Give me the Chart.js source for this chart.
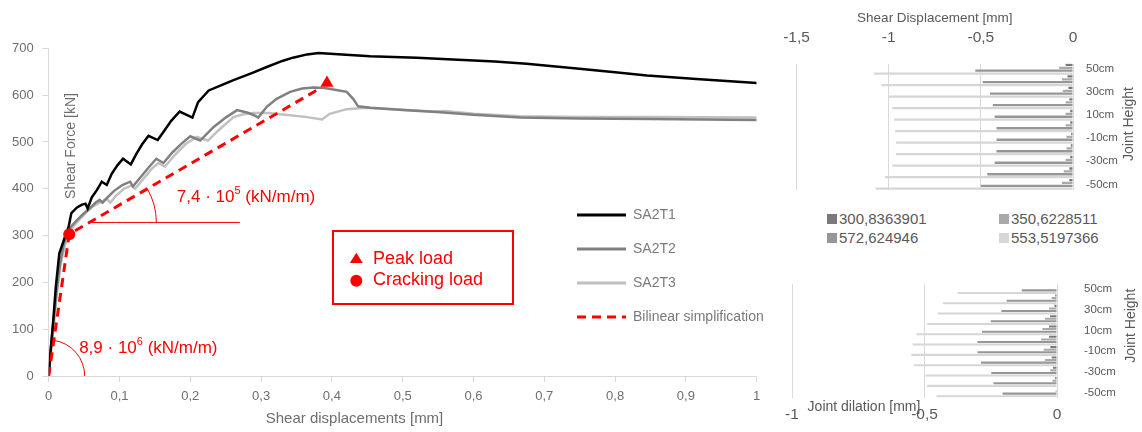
<!DOCTYPE html>
<html>
<head>
<meta charset="utf-8">
<script src="https://cdn.jsdelivr.net/npm/chart.js@4.4.1/dist/chart.umd.min.js"></script>
<style>
  html, body { margin: 0; padding: 0; background: #fff; }
  #wrap { position: relative; width: 1142px; height: 432px; overflow: hidden; font-family: 'Liberation Sans', Arial, sans-serif; }
  canvas { position: absolute; }
  #c-main { left: 0; top: 0; }
  #c-shear { left: 780px; top: 0; }
  #c-dil { left: 780px; top: 250px; }
  .lg { position: absolute; font-size: 15px; line-height: 18px; color: #595959; white-space: nowrap; }
  .lg i { display: inline-block; width: 10px; height: 10px; margin-right: 2px; }
</style>
</head>
<body>
<div id="wrap">
  <canvas id="c-main" width="780" height="432"></canvas>
  <canvas id="c-shear" width="362" height="210"></canvas>
  <canvas id="c-dil" width="362" height="182"></canvas>
  <div id="legend-right"></div>
</div>
<script>
var FONT = "'Liberation Sans', Arial, sans-serif";
Chart.defaults.font.family = FONT;
Chart.defaults.color = '#595959';

// ---------- left chart : shear force vs shear displacement ----------
var xTickLabels = ['0', '0,1', '0,2', '0,3', '0,4', '0,5', '0,6', '0,7', '0,8', '0,9', '1'];
var yTickLabels = ['0', '100', '200', '300', '400', '500', '600', '700'];

var sa2t1X = [0, 0.0025, 0.0065, 0.010, 0.015, 0.023, 0.028, 0.032, 0.040, 0.047, 0.052, 0.055, 0.061, 0.068, 0.075, 0.082, 0.089, 0.097, 0.105, 0.116, 0.124, 0.132, 0.141, 0.154, 0.162, 0.173, 0.185, 0.203, 0.211, 0.226, 0.245, 0.261, 0.285, 0.308, 0.330, 0.345, 0.365, 0.381, 0.392, 0.420, 0.454, 0.520, 0.571, 0.630, 0.675, 0.746, 0.800, 0.845, 0.920, 1.0];
var sa2t1Y = [0, 50, 120, 190, 262, 297, 318, 348, 360, 366, 368, 358, 382, 397, 415, 408, 432, 450, 464, 452, 475, 495, 513, 504, 521, 545, 565, 552, 585, 610, 622, 632, 646, 660, 673, 680, 687, 690, 689, 686, 683, 680, 676, 672, 667, 657, 649, 642, 634, 626];

var sa2t2X = [0, 0.003, 0.007, 0.011, 0.016, 0.021, 0.026, 0.032, 0.040, 0.048, 0.058, 0.066, 0.072, 0.076, 0.082, 0.092, 0.104, 0.115, 0.119, 0.130, 0.142, 0.152, 0.162, 0.175, 0.188, 0.200, 0.214, 0.233, 0.250, 0.266, 0.280, 0.290, 0.296, 0.308, 0.322, 0.341, 0.358, 0.374, 0.390, 0.402, 0.421, 0.430, 0.437, 0.454, 0.500, 0.548, 0.600, 0.666, 0.750, 0.850, 1.0];
var sa2t2Y = [0, 60, 120, 180, 240, 280, 305, 320, 333, 345, 358, 370, 376, 370, 380, 395, 408, 415, 405, 425, 447, 464, 455, 478, 497, 512, 503, 532, 552, 568, 563, 557, 552, 575, 592, 607, 614, 616, 615, 612, 607, 592, 576, 573, 568, 564, 558, 552, 550, 549, 547];

var sa2t3X = [0, 0.004, 0.008, 0.012, 0.017, 0.023, 0.030, 0.036, 0.044, 0.052, 0.062, 0.074, 0.082, 0.087, 0.095, 0.106, 0.117, 0.122, 0.133, 0.145, 0.155, 0.164, 0.178, 0.193, 0.209, 0.225, 0.240, 0.261, 0.275, 0.289, 0.310, 0.341, 0.365, 0.386, 0.397, 0.421, 0.449, 0.500, 0.543, 0.560, 0.600, 0.666, 0.750, 0.850, 1.0];
var sa2t3Y = [0, 60, 120, 180, 240, 280, 305, 322, 335, 348, 362, 372, 379, 370, 385, 400, 407, 400, 420, 442, 455, 447, 472, 495, 511, 503, 525, 553, 559, 562, 562, 557, 553, 548, 560, 570, 573, 569, 565, 566, 560, 555, 553, 553, 552];

var bilinearX = [0, 0.029, 0.385];
var bilinearY = [0, 303, 616];
var peakX = [0.393];
var peakY = [626];
var crackX = [0.029];
var crackY = [303];

// stiffness annotations: [text, superscript, rest], anchor in data units
var stiffInitialText = ['8,9 \u00b7 10', '6', ' (kN/m/m)'];
var stiffInitialAt = [0.043, 60];
var stiffSecondText = ['7,4 \u00b7 10', '5', ' (kN/m/m)'];
var stiffSecondAt = [0.181, 382];
var refLevel = 328;      // horizontal reference line for the second branch angle
var refLineEnd = 0.27;

// ---------- right charts : joint shear displacement / dilation ----------
var jointHeights = ['50cm', '40cm', '30cm', '20cm', '10cm', '0cm', '-10cm', '-20cm', '-30cm', '-40cm', '-50cm'];
var loadLevels = ['300,8363901', '350,6228511', '572,624946', '553,5197366'];
var shearTicks = ['-1,5', '-1', '-0,5', '0'];
var dilationTicks = ['-1', '-0,5', '0'];

var shear300 = [-0.04, -0.03, -0.025, -0.02, -0.015, -0.015, -0.01, -0.012, -0.015, -0.02, -0.02];
var shear350 = [-0.075, -0.06, -0.055, -0.04, -0.04, -0.04, -0.035, -0.035, -0.04, -0.05, -0.06];
var shear572 = [-0.53, -0.49, -0.45, -0.435, -0.425, -0.415, -0.415, -0.415, -0.425, -0.465, -0.50];
var shear553 = [-1.08, -1.04, -1.0, -0.98, -0.97, -0.965, -0.96, -0.96, -0.98, -1.02, -1.07];

var dil300 = [0, -0.007, -0.01, -0.026, -0.03, -0.03, -0.025, -0.02, -0.015, -0.007, -0.002];
var dil350 = [-0.002, -0.02, -0.03, -0.045, -0.055, -0.06, -0.05, -0.045, -0.025, -0.017, -0.005];
var dil572 = [-0.133, -0.19, -0.21, -0.25, -0.283, -0.30, -0.30, -0.287, -0.248, -0.24, -0.205];
var dil553 = [-0.375, -0.43, -0.45, -0.49, -0.53, -0.545, -0.55, -0.54, -0.496, -0.49, -0.455];

var loadColors = ['#7a7a7a', '#a9a9a9', '#969696', '#d6d6d6'];

function pts(xs, ys) {
    return xs.map(function (x, i) { return { x: x, y: ys[i] }; });
}

function supText(ctx, x, y, parts) {
    ctx.font = '17px ' + FONT;
    ctx.fillText(parts[0], x, y);
    var w = ctx.measureText(parts[0]).width;
    ctx.font = '11px ' + FONT;
    ctx.fillText(parts[1], x + w, y - 6);
    var w2 = ctx.measureText(parts[1]).width;
    ctx.font = '17px ' + FONT;
    ctx.fillText(parts[2], x + w + w2, y);
}

var mainExtras = {
    id: 'mainExtras',
    afterDraw: function (chart) {
        var ctx = chart.ctx, xs = chart.scales.x, ys = chart.scales.y;
        var px = function (v) { return xs.getPixelForValue(v); };
        var py = function (v) { return ys.getPixelForValue(v); };
        ctx.save();

        // angle of the first branch
        var x0 = px(bilinearX[0]), y0 = py(bilinearY[0]);
        var x1 = px(bilinearX[1]), y1 = py(bilinearY[1]);
        var x2 = px(bilinearX[2]), y2 = py(bilinearY[2]);
        ctx.strokeStyle = '#ff0000';
        ctx.lineWidth = 1;
        ctx.beginPath();
        ctx.arc(x0, y0, 36, Math.atan2(y1 - y0, x1 - x0), 0);
        ctx.stroke();

        // angle of the second branch
        var t = (refLevel - bilinearY[1]) / (bilinearY[2] - bilinearY[1]);
        var xr = px(bilinearX[1] + t * (bilinearX[2] - bilinearX[1]));
        var yr = py(refLevel);
        ctx.beginPath();
        ctx.moveTo(xr, yr);
        ctx.lineTo(px(refLineEnd), yr);
        ctx.stroke();
        ctx.beginPath();
        ctx.arc(xr, yr, 67, Math.atan2(y2 - y1, x2 - x1), 0);
        ctx.stroke();

        ctx.fillStyle = '#ff0000';
        ctx.textAlign = 'left';
        ctx.textBaseline = 'middle';
        supText(ctx, px(stiffInitialAt[0]), py(stiffInitialAt[1]), stiffInitialText);
        supText(ctx, px(stiffSecondAt[0]), py(stiffSecondAt[1]), stiffSecondText);

        // marker legend box
        ctx.lineWidth = 2;
        ctx.strokeRect(333, 231, 180, 73);
        ctx.beginPath();
        ctx.moveTo(356.3, 252.7);
        ctx.lineTo(362.8, 263);
        ctx.lineTo(349.8, 263);
        ctx.closePath();
        ctx.fill();
        ctx.beginPath();
        ctx.arc(356.3, 280.7, 6, 0, Math.PI * 2);
        ctx.fill();
        ctx.font = '18px ' + FONT;
        ctx.fillText('Peak load', 373, 259);
        ctx.fillText('Cracking load', 373, 280);

        // series legend
        var ds = chart.data.datasets;
        var order = [3, 4, 5, 2];
        var rows = [215, 249, 283, 317];
        ctx.font = '14px ' + FONT;
        order.forEach(function (k, i) {
            var d = ds[k];
            ctx.strokeStyle = d.borderColor;
            ctx.lineWidth = 3;
            ctx.setLineDash(d.borderDash || []);
            ctx.beginPath();
            ctx.moveTo(577, rows[i]);
            ctx.lineTo(626, rows[i]);
            ctx.stroke();
            ctx.setLineDash([]);
            ctx.fillStyle = '#7a7a7a';
            ctx.fillText(d.label, 633, rows[i]);
        });

        // axis titles
        ctx.fillStyle = '#6e6e6e';
        ctx.textAlign = 'center';
        ctx.font = '15px ' + FONT;
        ctx.fillText('Shear displacements [mm]', 354.5, 419);
        ctx.translate(71, 146);
        ctx.rotate(-Math.PI / 2);
        ctx.font = '14px ' + FONT;
        ctx.fillText('Shear Force [kN]', 0, 0);
        ctx.restore();
    }
};

var mainChart = new Chart(document.getElementById('c-main'), {
    type: 'line',
    data: {
        datasets: [
            { label: 'Peak load', data: pts(peakX, peakY), showLine: false, pointStyle: 'triangle', pointRadius: 7.5, pointBackgroundColor: '#ff0000', pointBorderWidth: 0 },
            { label: 'Cracking load', data: pts(crackX, crackY), showLine: false, pointStyle: 'circle', pointRadius: 6, pointBackgroundColor: '#ff0000', pointBorderWidth: 0 },
            { label: 'Bilinear simplification', data: pts(bilinearX, bilinearY), borderColor: '#ff0000', borderWidth: 3, borderDash: [9, 6], pointRadius: 0, tension: 0 },
            { label: 'SA2T1', data: pts(sa2t1X, sa2t1Y), borderColor: '#000000', borderWidth: 2.5, pointRadius: 0, tension: 0 },
            { label: 'SA2T2', data: pts(sa2t2X, sa2t2Y), borderColor: '#808080', borderWidth: 2.5, pointRadius: 0, tension: 0 },
            { label: 'SA2T3', data: pts(sa2t3X, sa2t3Y), borderColor: '#c0c0c0', borderWidth: 2.5, pointRadius: 0, tension: 0 }
        ]
    },
    options: {
        responsive: false,
        animation: false,
        layout: { padding: { top: 48.3, right: 23.3, left: 0, bottom: 0 } },
        plugins: { legend: { display: false }, tooltip: { enabled: false } },
        scales: {
            x: {
                type: 'linear', min: 0, max: 1,
                afterFit: function (s) { s.height = 56; },
                ticks: { stepSize: 0.1, padding: 7, color: '#6e6e6e', font: { size: 13 },
                    callback: function (v, i) { return xTickLabels[i]; } },
                grid: { drawOnChartArea: false, drawTicks: true, tickLength: 6, color: '#d9d9d9' },
                border: { display: true, color: '#d9d9d9' }
            },
            y: {
                type: 'linear', min: 0, max: 700,
                afterFit: function (s) { s.width = 48.7; },
                ticks: { stepSize: 100, padding: 9, color: '#6e6e6e', font: { size: 13 },
                    callback: function (v, i) { return yTickLabels[i]; } },
                grid: { drawOnChartArea: false, drawTicks: true, tickLength: 6, color: '#d9d9d9' },
                border: { display: true, color: '#d9d9d9' }
            }
        }
    },
    plugins: [mainExtras]
});

function sideTitle(cx, cy) {
    return {
        id: 'sideTitle',
        afterDraw: function (chart) {
            var ctx = chart.ctx;
            ctx.save();
            ctx.fillStyle = '#595959';
            ctx.font = '14px ' + FONT;
            ctx.textAlign = 'center';
            ctx.textBaseline = 'middle';
            ctx.translate(cx, cy);
            ctx.rotate(-Math.PI / 2);
            ctx.fillText('Joint Height', 0, 0);
            ctx.restore();
        }
    };
}

function barSets(a, b, c, d) {
    return [a, b, c, d].map(function (vals, k) {
        return { label: loadLevels[k], data: vals, backgroundColor: loadColors[k], borderWidth: 0 };
    });
}

// keep edge labels from pushing the plot area inwards
function fixHeight(h) {
    return function (s) { s.height = h; s.paddingLeft = 0; s.paddingRight = 0; };
}

var shearChart = new Chart(document.getElementById('c-shear'), {
    type: 'bar',
    data: { labels: jointHeights, datasets: barSets(shear300, shear350, shear572, shear553) },
    options: {
        indexAxis: 'y',
        responsive: false,
        animation: false,
        datasets: { bar: { categoryPercentage: 1, barPercentage: 0.8 } },
        layout: { padding: { left: 16.5, top: 0, right: 0, bottom: 3.5 } },
        plugins: { legend: { display: false }, tooltip: { enabled: false } },
        scales: {
            x: {
                position: 'top', min: -1.5, max: 0,
                afterFit: fixHeight(63.5),
                ticks: { stepSize: 0.5, padding: 16, font: { size: 15.5 },
                    callback: function (v, i) { return shearTicks[i]; } },
                grid: { color: '#d9d9d9', drawTicks: false },
                border: { display: false },
                title: { display: true, text: 'Shear Displacement [mm]', font: { size: 13.5 }, padding: { top: 10, bottom: 0 } }
            },
            y: {
                position: 'right',
                afterFit: function (s) { s.width = 69; },
                ticks: { padding: 13, autoSkip: false, font: { size: 11.5 },
                    callback: function (v, i) { return i % 2 === 0 ? jointHeights[i] : ''; } },
                grid: { display: false, drawTicks: false },
                border: { display: false }
            }
        }
    },
    plugins: [sideTitle(349, 124)]
});

var dilTitle = {
    id: 'dilTitle',
    afterDraw: function (chart) {
        var ctx = chart.ctx;
        ctx.save();
        ctx.fillStyle = '#595959';
        ctx.font = '14px ' + FONT;
        ctx.textAlign = 'center';
        ctx.textBaseline = 'middle';
        ctx.fillText('Joint dilation [mm]', 84, 157);
        ctx.restore();
    }
};

var dilChart = new Chart(document.getElementById('c-dil'), {
    type: 'bar',
    data: { labels: jointHeights, datasets: barSets(dil300, dil350, dil572, dil553) },
    options: {
        indexAxis: 'y',
        responsive: false,
        animation: false,
        datasets: { bar: { categoryPercentage: 1, barPercentage: 0.8 } },
        layout: { padding: { left: 12, top: 5.5, right: 0, bottom: 0 } },
        plugins: { legend: { display: false }, tooltip: { enabled: false } },
        scales: {
            x: {
                position: 'bottom', min: -1, max: 0,
                afterFit: fixHeight(34.5),
                ticks: { stepSize: 0.5, padding: 8, font: { size: 15.5 },
                    callback: function (v, i) { return dilationTicks[i]; } },
                grid: { color: '#d9d9d9', drawTicks: false },
                border: { display: false }
            },
            y: {
                position: 'right',
                afterFit: function (s) { s.width = 85; },
                ticks: { padding: 27, autoSkip: false, font: { size: 11.5 },
                    callback: function (v, i) { return i % 2 === 0 ? jointHeights[i] : ''; } },
                grid: { display: false, drawTicks: false },
                border: { display: false }
            }
        }
    },
    plugins: [sideTitle(350.7, 75.7), dilTitle]
});

// legend shared by the two bar charts
var legendPos = [[827, 210], [999, 210], [827, 229], [999, 229]];
var lgHtml = '';
loadLevels.forEach(function (name, k) {
    lgHtml += '<div class="lg" style="left:' + legendPos[k][0] + 'px;top:' + legendPos[k][1] + 'px">' +
        '<i style="background:' + loadColors[k] + '"></i>' + name + '</div>';
});
document.getElementById('legend-right').innerHTML = lgHtml;
</script>
</body>
</html>
